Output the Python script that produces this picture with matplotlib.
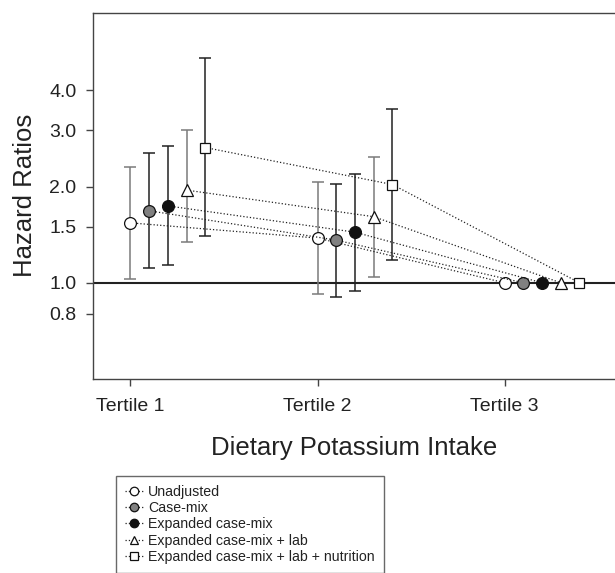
import numpy as np
import matplotlib.pyplot as plt
from matplotlib.ticker import FixedLocator, NullLocator, FixedFormatter

plt.rcParams['font.family'] = ['Liberation Sans', 'DejaVu Sans']

tertiles = ['Tertile 1', 'Tertile 2', 'Tertile 3']
models = ['Unadjusted', 'Case-mix', 'Expanded case-mix',
          'Expanded case-mix + lab', 'Expanded case-mix + lab + nutrition']

# hazard ratios per model, per tertile (tertile 3 = reference)
hr = [[1.54, 1.38, 1.0],
      [1.68, 1.36, 1.0],
      [1.74, 1.44, 1.0],
      [1.95, 1.61, 1.0],
      [2.65, 2.03, 1.0]]
ci_low = [[1.03, 0.92, np.nan],
          [1.11, 0.90, np.nan],
          [1.14, 0.94, np.nan],
          [1.34, 1.04, np.nan],
          [1.40, 1.18, np.nan]]
ci_high = [[2.30, 2.07, np.nan],
           [2.55, 2.04, np.nan],
           [2.67, 2.19, np.nan],
           [3.01, 2.48, np.nan],
           [5.05, 3.50, np.nan]]

yticks = [0.8, 1.0, 1.5, 2.0, 3.0, 4.0]

markers = ['o', 'o', 'o', '^', 's']
fills = ['white', '#808080', '#111111', 'white', 'white']
barcols = ['#7a7a7a', '#222222', '#222222', '#7a7a7a', '#222222']
sizes = [8.5, 8.5, 8.5, 8.5, 7.5]
txt = '#222222'

fig = plt.figure(figsize=(6.15, 5.73), dpi=100)
ax = fig.add_axes([0.1512, 0.3386, 0.8488, 0.6392])

ax.axhline(1.0, color='#222222', lw=1.5, zorder=1)

x0 = np.arange(1, len(tertiles) + 1)
for i in range(len(models)):
    x = x0 + 0.1 * i
    y = np.array(hr[i])
    lo = np.array(ci_low[i]); hi = np.array(ci_high[i])
    ok = ~np.isnan(lo)
    ax.errorbar(x[ok], y[ok], yerr=[y[ok] - lo[ok], hi[ok] - y[ok]], fmt='none',
                ecolor=barcols[i], elinewidth=1.1, capsize=4, capthick=1.1, zorder=2)
    ax.plot(x, y, linestyle=':', color='#222222', lw=0.9, marker=markers[i],
            ms=sizes[i], mfc=fills[i], mec='#111111', mew=0.9, label=models[i], zorder=3)

ax.set_yscale('log')
ax.set_ylim(0.5, 7.0)
ax.set_xlim(0.8, 3.59)
ax.yaxis.set_major_locator(FixedLocator(yticks))
ax.yaxis.set_major_formatter(FixedFormatter(['%.1f' % v for v in yticks]))
ax.yaxis.set_minor_locator(NullLocator())
ax.set_xticks(x0)
ax.set_xticklabels(tertiles)
ax.tick_params(axis='both', labelsize=14, colors='#444444', labelcolor=txt, length=5, width=1)
ax.tick_params(axis='x', pad=9)
ax.tick_params(axis='y', pad=7)

for s in ['left', 'bottom', 'top']:
    ax.spines[s].set_color('#444444')
    ax.spines[s].set_linewidth(1)
ax.spines['right'].set_visible(False)

ax.set_ylabel('Hazard Ratios', fontsize=18.5, color=txt, labelpad=9)
ax.set_xlabel('Dietary Potassium Intake', fontsize=18.5, color=txt, labelpad=15)

leg = fig.legend(loc='upper left', bbox_to_anchor=(116 / 615, 1 - 476 / 573),
                 fontsize=10.2, frameon=True, fancybox=False, handlelength=1.3,
                 handletextpad=0.3, labelspacing=0.15, borderpad=0.65,
                 markerscale=0.72, borderaxespad=0)
leg.get_frame().set_edgecolor('#444444')
leg.get_frame().set_linewidth(1)
for t in leg.get_texts():
    t.set_color(txt)

fig.savefig('out.png', dpi=100)
